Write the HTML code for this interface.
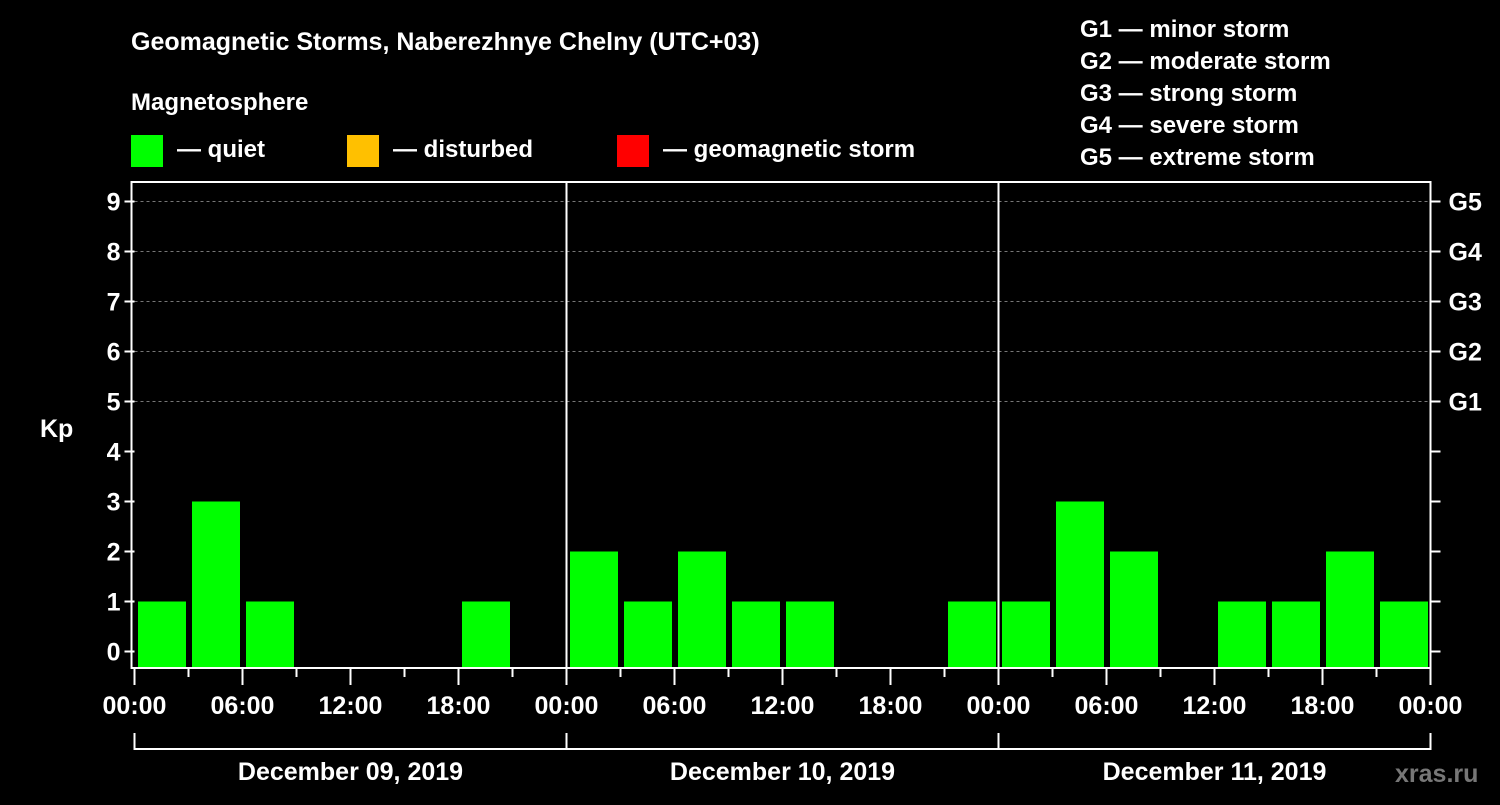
<!DOCTYPE html>
<html><head><meta charset="utf-8"><style>
html,body{margin:0;padding:0;background:#000;}
svg text{font-family:"Liberation Sans",sans-serif;font-weight:bold;fill:#fff;}
</style></head><body>
<svg id="c" width="1500" height="800" xmlns="http://www.w3.org/2000/svg">
<rect width="1500" height="800" fill="#000"/>
<text x="131" y="50" font-size="25">Geomagnetic Storms, Naberezhnye Chelny (UTC+03)</text>
<text x="131" y="110" font-size="24">Magnetosphere</text>
<g><rect x="131" y="135" width="32" height="32" fill="#00ff00"/><text x="177" y="157" font-size="24">— quiet</text></g>
<g><rect x="347" y="135" width="32" height="32" fill="#ffc000"/><text x="393" y="157" font-size="24">— disturbed</text></g>
<g><rect x="617" y="135" width="32" height="32" fill="#ff0000"/><text x="663" y="157" font-size="24">— geomagnetic storm</text></g>
<g font-size="24">
<text x="1080" y="37">G1 — minor storm</text>
<text x="1080" y="69">G2 — moderate storm</text>
<text x="1080" y="101">G3 — strong storm</text>
<text x="1080" y="133">G4 — severe storm</text>
<text x="1080" y="165">G5 — extreme storm</text>
</g>
<text x="40" y="437" font-size="25">Kp</text>
<text x="1395" y="782" font-size="25" fill="#888" style="fill:#777">xras.ru</text>
<g id="grid"></g><g id="bars"></g><g id="axes"></g>
</svg>
<script>
const days = ["December 09, 2019","December 10, 2019","December 11, 2019"];
const kpValues = [1,3,1,0,0,0,1,0, 2,1,2,1,1,0,0,1, 1,3,2,0,1,1,2,1];
const yTicks = [0,1,2,3,4,5,6,7,8,9];
const gLabels = ["G1","G2","G3","G4","G5"];
const hourLabels = ["00:00","06:00","12:00","18:00"];

const NS="http://www.w3.org/2000/svg";
const X0=134.5, SLOT=54, X1=X0+SLOT*kpValues.length, TOP=182, BOT=668;
const yS=v=>651.5-50*v;
const xS=i=>X0+SLOT*i;
function mk(p,t,a){const e=document.createElementNS(NS,t);for(const k in a)e.setAttribute(k,a[k]);p.appendChild(e);return e;}
const grid=document.getElementById('grid'),bars=document.getElementById('bars'),axes=document.getElementById('axes');
yTicks.forEach(v=>{
  if(v>=5){const l=mk(grid,'line',{x1:X0,x2:X1,y1:yS(v),y2:yS(v),stroke:'#777','stroke-dasharray':'3,3','stroke-width':1});
  
  }
  const t=mk(axes,'line',{x1:X0-10,x2:X0,y1:yS(v),y2:yS(v),stroke:'#fff','stroke-width':2});
  
  
  const t2=mk(axes,'line',{x1:X1,x2:X1+10,y1:yS(v),y2:yS(v),stroke:'#fff','stroke-width':2});
  
  
  const tx=mk(axes,'text',{x:X0-14,y:yS(v)+9,'font-size':25,'text-anchor':'end'});tx.textContent=v;
  
  
});
gLabels.forEach((g,i)=>{
  const tx=mk(axes,'text',{x:X1+18,y:yS(5+i)+9,'font-size':25});tx.textContent=g;
  
  
});
kpValues.forEach((v,i)=>{
  if(v<=0)return;
  const c=v>=5?'#ff0000':(v>=4?'#ffc000':'#00ff00');
  const r=mk(bars,'rect',{x:xS(i)+3.5,y:yS(v),width:48,height:BOT-1-yS(v),fill:c});
  
  
});
const fr=mk(axes,'rect',{x:X0-3,y:TOP,width:X1-X0+3,height:BOT-TOP,fill:'none',stroke:'#fff','stroke-width':2});


days.forEach((d,di)=>{
  const dx=xS(di*8);
  if(di>0){const s=mk(axes,'line',{x1:dx,x2:dx,y1:TOP,y2:BOT,stroke:'#fff','stroke-width':2});
  
  }
  const br=mk(axes,'path',{d:`M${dx} 733V749H${xS(di*8+8)}V733`,fill:'none',stroke:'#fff','stroke-width':2});
  
  
  const tx=mk(axes,'text',{x:(dx+xS(di*8+8))/2,y:780,'font-size':25,'text-anchor':'middle'});tx.textContent=d;
  
  
});
for(let i=0;i<=kpValues.length;i++){
  const major=i%2===0;
  const t=mk(axes,'line',{x1:xS(i),x2:xS(i),y1:BOT,y2:BOT+(major?17:9),stroke:'#fff','stroke-width':2});
  
  
  if(major){const tx=mk(axes,'text',{x:xS(i),y:714,'font-size':25,'text-anchor':'middle'});
  tx.textContent=hourLabels[(i/2)%4];
  
  }
}
</script>
</body></html>
